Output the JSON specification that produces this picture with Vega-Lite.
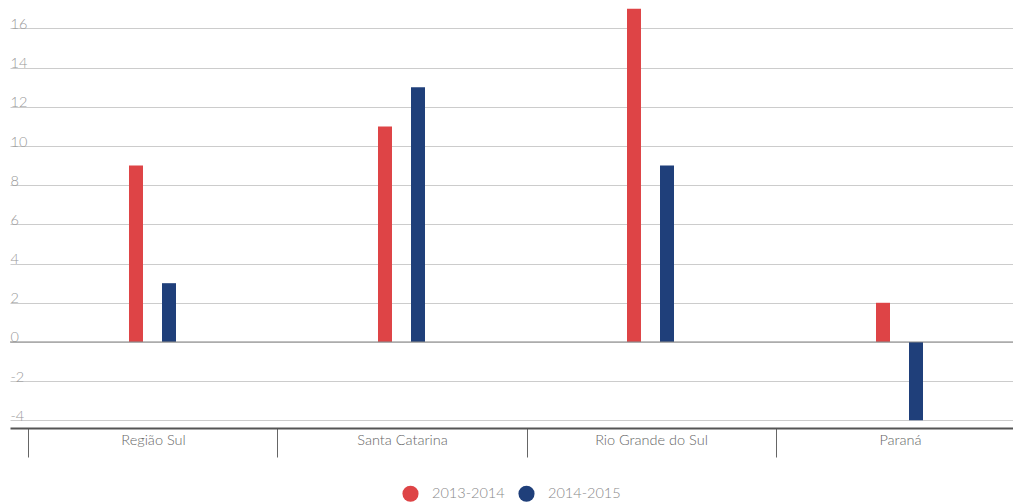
{
  "$schema": "https://vega.github.io/schema/vega-lite/v6.json",
  "autosize": "none",
  "width": 1034,
  "height": 427,
  "padding": {"left": 10, "top": 1, "right": 0, "bottom": 75},
  "background": "#ffffff",
  "config": {
    "font": "Lato",
    "view": {"stroke": null}
  },
  "data": {
    "values": [
      {"regiao": "Região Sul", "periodo": "2013-2014", "valor": 9},
      {"regiao": "Região Sul", "periodo": "2014-2015", "valor": 3},
      {"regiao": "Santa Catarina", "periodo": "2013-2014", "valor": 11},
      {"regiao": "Santa Catarina", "periodo": "2014-2015", "valor": 13},
      {"regiao": "Rio Grande do Sul", "periodo": "2013-2014", "valor": 17},
      {"regiao": "Rio Grande do Sul", "periodo": "2014-2015", "valor": 9},
      {"regiao": "Paraná", "periodo": "2013-2014", "valor": 2},
      {"regiao": "Paraná", "periodo": "2014-2015", "valor": -4}
    ]
  },
  "layer": [
    {
      "mark": {"type": "bar"},
      "encoding": {
        "x": {
          "field": "regiao",
          "type": "nominal",
          "sort": null,
          "scale": {"paddingInner": 0, "paddingOuter": 0.0763},
          "axis": {
            "title": null,
            "orient": "bottom",
            "bandPosition": 0,
            "ticks": true,
            "tickSize": 29,
            "tickColor": "#666666",
            "tickWidth": 1,
            "labelAlign": "center",
            "labelBaseline": "top",
            "labelPadding": -24,
            "labelFontSize": 14.5,
            "labelFontWeight": 300,
            "labelColor": "#666666",
            "labelFont": "Lato",
            "labelAngle": 0,
            "domain": true,
            "domainColor": "#555555",
            "domainWidth": 2,
            "grid": false
          }
        },
        "xOffset": {
          "field": "periodo",
          "type": "nominal",
          "scale": {"range": [100, 147], "paddingInner": 0.576, "paddingOuter": 0}
        },
        "y": {
          "field": "valor",
          "type": "quantitative",
          "scale": {"domain": [-4.39, 17.4], "nice": false, "zero": false},
          "axis": {
            "title": null,
            "values": [-4, -2, 0, 2, 4, 6, 8, 10, 12, 14, 16],
            "labelExpr": "'' + datum.value",
            "domain": false,
            "ticks": false,
            "tickSize": 0,
            "labelPadding": 0,
            "labelAlign": "left",
            "labelBaseline": "alphabetic",
            "labelDx": 1,
            "labelDy": -4,
            "labelFontSize": 14.5,
            "labelFontWeight": 300,
            "labelColor": "#999999",
            "labelFont": "Lato",
            "grid": true,
            "gridColor": "#cccccc",
            "gridWidth": 1
          }
        },
        "color": {
          "field": "periodo",
          "type": "nominal",
          "scale": {"domain": ["2013-2014", "2014-2015"], "range": ["#de4446", "#1f3f7a"]},
          "legend": {
            "title": null,
            "orient": "none",
            "direction": "horizontal",
            "legendX": 392,
            "legendY": 484,
            "symbolType": "circle",
            "symbolSize": 260,
            "symbolStrokeWidth": 0,
            "labelFontSize": 14.5,
            "labelFontWeight": 300,
            "labelColor": "#888888",
            "labelFont": "Lato",
            "labelOffset": 13,
            "columnPadding": 13
          }
        }
      }
    },
    {
      "data": {"values": [{"zero": 0}]},
      "mark": {"type": "rule", "color": "#888888", "strokeWidth": 1},
      "encoding": {
        "y": {"field": "zero", "type": "quantitative"}
      }
    }
  ]
}
